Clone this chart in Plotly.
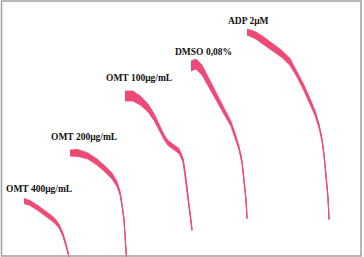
import plotly.graph_objects as go

# Traces: time position, signal level (pixel-like units, y down), half band width
labels = ["OMT 400μg/mL", "OMT 200μg/mL", "OMT 100μg/mL", "DMSO 0,08%", "ADP 2μM"]
label_x = [4, 49, 104, 173, 226]
label_y = [189, 137, 78, 52, 21]

omt400_x = [24, 30, 38, 46, 54, 59, 63, 66, 68, 69]
omt400_y = [201, 203, 208, 214, 220, 226, 235, 245, 252, 258]
omt400_w = [2.5, 2.5, 2.5, 2.5, 2.5, 2.0, 1.8, 1.5, 1.2, 1.0]

omt200_x = [70, 78, 88, 97, 105, 112, 117, 120, 122, 124, 125, 126, 126.5]
omt200_y = [153, 153, 156, 162, 169, 176, 184, 193, 205, 220, 235, 250, 258]
omt200_w = [3.0, 3.5, 3.0, 3.0, 3.0, 3.0, 2.5, 2.0, 1.5, 1.2, 1.0, 0.8, 0.7]

omt100_x = [125, 133, 141, 148, 154, 159, 164, 168, 173, 179, 183, 185, 187, 189, 191, 192]
omt100_y = [96, 96, 101, 108, 117, 127, 137, 143, 147, 151, 160, 172, 188, 205, 220, 230]
omt100_w = [5.0, 5.0, 4.5, 4.0, 3.5, 3.0, 2.5, 2.5, 2.5, 2.5, 2.0, 1.5, 1.2, 1.0, 0.8, 0.7]

dmso_x = [191, 196, 202, 207, 212, 218, 225, 231, 235, 239, 242, 244, 246, 247]
dmso_y = [66, 64, 70, 79, 88, 100, 113, 124, 135, 148, 162, 180, 200, 218]
dmso_w = [5.0, 5.0, 5.0, 4.5, 4.0, 3.5, 3.0, 2.5, 2.0, 1.8, 1.5, 1.2, 1.0, 0.8]

adp_x = [247, 255, 263, 272, 282, 290, 297, 304, 310, 315, 319, 322, 324, 326, 328, 329]
adp_y = [32, 35, 40, 47, 54, 62, 74, 88, 101, 113, 126, 140, 155, 175, 198, 219]
adp_w = [3.0, 3.5, 3.5, 3.5, 3.5, 3.5, 3.0, 3.0, 2.5, 2.5, 2.0, 1.5, 1.2, 1.0, 0.8, 0.7]

series = [
    (omt400_x, omt400_y, omt400_w),
    (omt200_x, omt200_y, omt200_w),
    (omt100_x, omt100_y, omt100_w),
    (dmso_x, dmso_y, dmso_w),
    (adp_x, adp_y, adp_w),
]

color = "#EE4A78"
fig = go.Figure()
for xs, ys, ws in series:
    px = list(xs) + list(xs)[::-1]
    py = [y - w for y, w in zip(ys, ws)] + [y + w for y, w in zip(ys, ws)][::-1]
    fig.add_trace(go.Scatter(x=px, y=py, fill="toself", fillcolor=color,
                             mode="lines", line=dict(color=color, width=0.8),
                             hoverinfo="skip", showlegend=False))
    fig.add_trace(go.Scatter(x=xs, y=ys, mode="lines",
                             line=dict(color=color, width=1.2, shape="spline"),
                             hoverinfo="skip", showlegend=False))

for t, lx, ly in zip(labels, label_x, label_y):
    fig.add_annotation(x=lx, y=ly, text="<b>" + t + "</b>", showarrow=False,
                       xanchor="left", yanchor="middle",
                       font=dict(family="Liberation Serif", size=9.5, color="#111111"))

fig.add_shape(type="rect", xref="x", yref="y", x0=1.5, x1=361, y0=1, y1=256,
              line=dict(color="#A0A0A0", width=1.5), layer="above")

fig.update_layout(
    width=364, height=257, margin=dict(l=0, r=0, t=0, b=0),
    paper_bgcolor="white", plot_bgcolor="white",
    xaxis=dict(range=[0, 364], visible=False, fixedrange=True),
    yaxis=dict(range=[257, 0], visible=False, fixedrange=True),
)
fig.write_html("out.html")
